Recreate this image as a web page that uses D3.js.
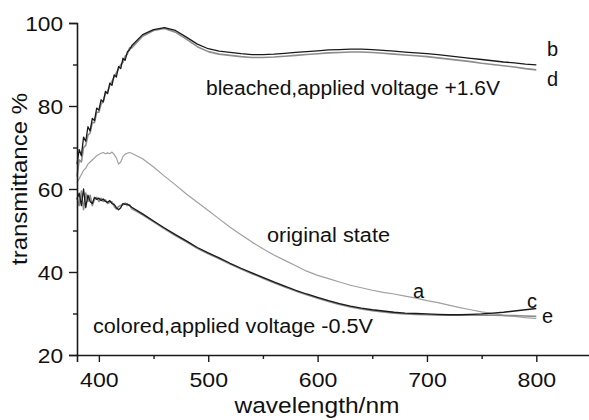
<!DOCTYPE html>
<html>
<head>
<meta charset="utf-8">
<script src="https://cdn.jsdelivr.net/npm/d3@7"></script>
<style>
  html, body { margin: 0; padding: 0; background: #fff; }
  svg { display: block; font-family: "Liberation Sans", Arial, sans-serif; }
</style>
</head>
<body>
<svg id="chart" width="589" height="420"></svg>
<script>
// ---- data ----
const wavelength = [380,382,384,386,388,390,392,394,396,398,400,402,404,406,408,410,412,414,416,418,420,422,424,426,428,430,
  440,450,460,470,480,490,500,510,520,530,540,550,560,570,580,590,600,610,620,630,640,650,660,670,680,690,700,710,720,730,740,750,760,770,780,790,800];

// a: original state (grey)
const seriesA = [61.5,62.5,63.5,64.5,65,66,66.5,67,67.5,68,68.3,68.6,68.8,68.5,68.7,68.5,68.9,68.3,67.5,66,66.5,67.8,68.4,68.6,68.8,68.6,
  67.3,65.3,63.1,61,58.8,56.8,54.8,52.8,50.8,49.0,47.2,45.6,44.1,42.8,41.5,40.2,39.2,38.4,37.6,36.8,36.2,35.6,35.1,34.7,34.2,33.7,33.1,32.6,32.0,31.4,30.9,30.4,30.0,29.6,29.3,29.0,28.8];

// b: bleached (black)
const seriesB = [66,69.5,68,72.5,71.5,75,74,77,76.5,79.5,79,81.5,81,83.5,83,85.5,85,87.5,87,89.5,89,91.5,91,93,93.5,94.5,
  97.2,98.4,98.9,98.2,96.6,94.9,93.8,93.2,92.9,92.6,92.4,92.4,92.5,92.7,92.9,93.1,93.3,93.5,93.6,93.7,93.7,93.6,93.4,93.2,93.0,92.8,92.6,92.4,92.1,91.8,91.5,91.2,90.9,90.6,90.4,90.1,89.9];

// c: colored (black)
const seriesC = [57.5,59,56,60,55.5,58.5,57,56.5,58,57.5,57.8,57.2,57.6,57,56.8,57.2,56.5,56.3,55.5,55,55.5,56.5,56.3,56.4,56,55.6,
  54,52.3,50.6,49,47.5,45.9,44.6,43.4,42.1,40.9,39.8,38.7,37.6,36.6,35.6,34.7,33.9,33.1,32.4,31.8,31.3,30.9,30.6,30.3,30.1,30.0,29.9,29.8,29.7,29.7,29.8,29.9,30.1,30.3,30.6,30.9,31.2];

// d: bleached (grey)
const seriesD = [63,67,66.5,70,70.5,73,73.5,76,76,78.5,78.5,80.5,81,83,83.5,85,86,87,88,89,90,90.5,92,92.5,94,94,
  96.8,98.2,98.7,97.8,96.1,94.3,93.1,92.5,92.2,91.9,91.7,91.7,91.8,92.0,92.2,92.4,92.6,92.8,92.9,93.0,93.0,92.9,92.7,92.5,92.3,92.1,91.9,91.6,91.3,91.0,90.7,90.3,90.0,89.7,89.4,89.0,88.7];

// e: colored (grey)
const seriesE = [58,56,59.5,55,59,57,58.5,56,57.5,58,57,57.8,57,57.4,56.5,56.8,56.9,55.8,55.2,55.8,56,56.2,56.6,56,56.2,55.3,
  53.8,52.1,50.4,48.8,47.3,45.7,44.4,43.2,41.9,40.7,39.6,38.5,37.4,36.4,35.4,34.5,33.7,32.9,32.2,31.6,31.1,30.7,30.4,30.1,29.9,29.8,29.7,29.6,29.6,29.6,29.6,29.6,29.6,29.5,29.5,29.4,29.3];

const xMajorTicks = [400, 500, 600, 700, 800];
const xMinorTicks = [450, 550, 650, 750];
const yMajorTicks = [20, 40, 60, 80, 100];
const yMinorTicks = [30, 50, 70, 90];

const curveNames = ["a", "b", "c", "d", "e"];
const xTitle = "wavelength/nm";
const yTitle = "transmittance %";
const labelBleached = "bleached,applied voltage +1.6V";
const labelOriginal = "original state";
const labelColored = "colored,applied voltage -0.5V";

// ---- drawing ----
const svg = d3.select("#chart");
const x = d3.scaleLinear().domain([380, 850]).range([77, 591]);
const y = d3.scaleLinear().domain([20, 100]).range([355, 23]);

function stretch(sel, w) {
  sel.each(function () {
    const t = d3.select(this);
    t.attr("textLength", w).attr("lengthAdjust", "spacingAndGlyphs");
  });
}
function stretchBy(sel, f) {
  sel.each(function () {
    const len = this.getComputedTextLength();
    d3.select(this).attr("textLength", len * f).attr("lengthAdjust", "spacingAndGlyphs");
  });
}

const line = (vals) => d3.line()
  .x((d, i) => x(wavelength[i]))
  .y(d => y(d))(vals);

const series = [
  { name: "a", vals: seriesA, color: "#a0a0a0", w: 1.2 },
  { name: "d", vals: seriesD, color: "#8c8c8c", w: 1.6 },
  { name: "e", vals: seriesE, color: "#8c8c8c", w: 1.6 },
  { name: "b", vals: seriesB, color: "#1a1a1a", w: 1.3 },
  { name: "c", vals: seriesC, color: "#1a1a1a", w: 1.3 }
];
svg.append("g").selectAll("path").data(series).join("path")
  .attr("d", s => line(s.vals))
  .attr("fill", "none")
  .attr("stroke", s => s.color)
  .attr("stroke-width", s => s.w)
  .attr("stroke-linejoin", "round");

// axes
const xAxis = svg.append("g").attr("transform", "translate(0,355)")
  .call(d3.axisBottom(x).tickValues(xMajorTicks).tickSize(7).tickPadding(5).tickFormat(d3.format("d")));
svg.append("g").attr("transform", "translate(0,355)")
  .call(d3.axisBottom(x).tickValues(xMinorTicks).tickSize(4).tickFormat(""))
  .call(g => g.select(".domain").remove());
const yAxis = svg.append("g").attr("transform", "translate(77,0)")
  .call(d3.axisLeft(y).tickValues(yMajorTicks).tickSize(8).tickPadding(5).tickFormat(d3.format("d")));
svg.append("g").attr("transform", "translate(77,0)")
  .call(d3.axisLeft(y).tickValues(yMinorTicks).tickSize(4).tickFormat(""))
  .call(g => g.select(".domain").remove());

svg.selectAll(".domain").attr("stroke", "#1a1a1a").attr("stroke-width", 1.6);
svg.selectAll(".tick line").attr("stroke", "#1a1a1a").attr("stroke-width", 1.4);
svg.selectAll(".tick text")
  .attr("font-family", "'Liberation Sans', Arial, sans-serif")
  .attr("font-size", 21).attr("fill", "#111");
xAxis.selectAll(".tick text").attr("dy", null).attr("y", 32 - 0);
stretchBy(xAxis.selectAll(".tick text"), 1.1);
yAxis.selectAll(".tick text").attr("dy", "0.36em").attr("x", -14);
stretchBy(yAxis.selectAll(".tick text"), 1.08);

// titles
const tx = svg.append("text").attr("x", 317).attr("y", 413).attr("text-anchor", "middle")
  .attr("font-size", 22).attr("fill", "#111").text(xTitle);
stretch(tx, 165);
const ty = svg.append("text").attr("transform", "translate(27,179) rotate(-90)").attr("text-anchor", "middle")
  .attr("font-size", 22).attr("fill", "#111").text(yTitle);
stretch(ty, 172);

// annotations
function note(txt, x0, yb, w, fs) {
  const t = svg.append("text").attr("x", x0).attr("y", yb).attr("font-size", fs).attr("fill", "#111").text(txt);
  if (w) stretch(t, w);
  return t;
}
note(labelBleached, 206, 95, 294, 20);
note(labelOriginal, 267, 242, 123, 20);
note(labelColored, 93, 333, 280, 20);

// curve letters
const letterPos = { a: [413, 298], b: [547, 56], c: [527, 308], d: [547, 86], e: [542, 323] };
curveNames.forEach(n => note(n, letterPos[n][0], letterPos[n][1], null, 20));
</script>
</body>
</html>
